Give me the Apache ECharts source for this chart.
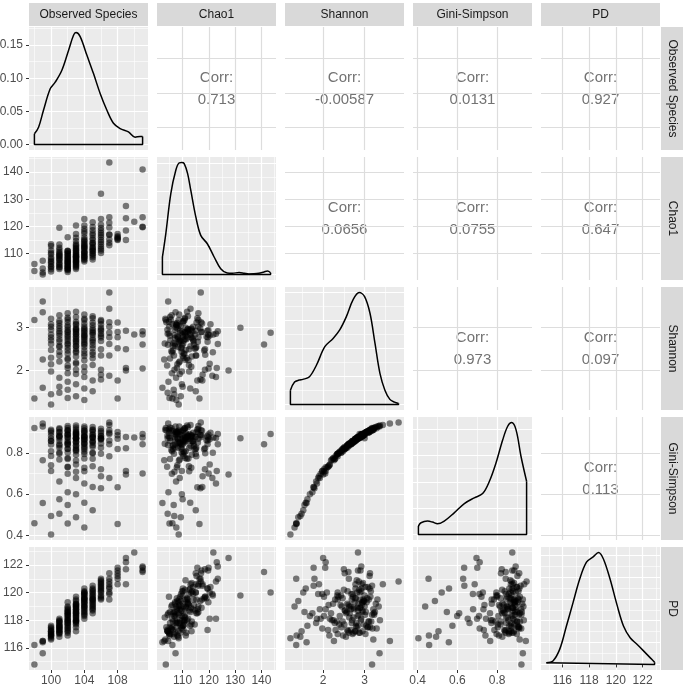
<!DOCTYPE html>
<html><head><meta charset="utf-8">
<script src="https://cdn.jsdelivr.net/npm/echarts@6/dist/echarts.min.js"></script>
<style>html,body{margin:0;padding:0;background:#fff}#c{width:687px;height:697px}</style>
</head><body><div id="c"></div>
<script>
const varNames = ['Observed Species', 'Chao1', 'Shannon', 'Gini-Simpson', 'PD'];

const observedSpecies = [
  98, 98,
  99, 99, 99, 99,
  100, 100, 100, 100, 100, 100, 100, 100, 100, 100, 100, 100, 100, 100,
  101, 101, 101, 101, 101, 101, 101, 101, 101, 101, 101, 101, 101, 101, 101, 101, 101, 101,
  102, 102, 102, 102, 102, 102, 102, 102, 102, 102, 102, 102, 102, 102, 102, 102, 102, 102, 102, 102, 102, 102, 102, 102, 102, 102,
  103, 103, 103, 103, 103, 103, 103, 103, 103, 103, 103, 103, 103, 103, 103, 103, 103, 103, 103, 103, 103, 103, 103, 103, 103, 103, 103, 103, 103, 103,
  104, 104, 104, 104, 104, 104, 104, 104, 104, 104, 104, 104, 104, 104, 104, 104, 104, 104, 104, 104, 104, 104, 104, 104, 104, 104, 104,
  105, 105, 105, 105, 105, 105, 105, 105, 105, 105, 105, 105, 105, 105, 105, 105, 105, 105, 105, 105,
  106, 106, 106, 106, 106, 106, 106, 106, 106, 106, 106, 106, 106, 106, 106,
  107, 107, 107, 107, 107, 107, 107, 107, 107,
  108, 108, 108, 108, 108, 108,
  109, 109, 109, 109,
  110,
  111, 111, 111, 111
];

const chao1 = [
  103.6, 106.1,
  107.3, 104.5, 103.0, 102.3,
  104.2, 108.5, 106.1, 111.2, 105.3, 109.7, 103.4, 107.2, 112.8, 106.8, 110.3, 104.9, 113.4, 108.0,
  105.1, 108.3, 110.6, 104.3, 112.1, 106.7, 109.2, 119.5, 107.5, 111.4, 105.8, 108.9, 113.3, 106.2, 110.0, 104.8, 107.9, 109.6,
  103.2, 105.5, 107.8, 109.1, 104.6, 106.3, 108.4, 110.2, 111.0, 105.0, 107.0, 108.8, 116.0, 104.1, 106.9, 109.6, 103.8, 105.9, 108.1, 110.7, 107.4, 104.4, 106.6, 109.9, 105.2, 110.9,
  104.3, 106.0, 107.6, 108.9, 110.4, 112.0, 113.5, 105.2, 107.0, 108.3, 109.7, 111.2, 114.6, 117.2, 120.3, 104.8, 106.5, 108.0, 109.3, 110.9, 112.6, 105.7, 107.3, 108.6, 110.0, 111.7, 115.8, 106.9, 109.0, 113.0,
  107.1, 108.5, 110.0, 111.4, 112.9, 114.3, 116.0, 118.2, 120.3, 122.7, 108.0, 109.4, 110.8, 112.2, 113.7, 115.2, 117.4, 107.6, 109.0, 110.4, 111.9, 113.3, 114.8, 108.7, 110.2, 112.5, 119.1,
  107.8, 109.3, 110.9, 112.4, 114.0, 115.6, 117.5, 119.8, 121.5, 108.6, 110.1, 111.6, 113.2, 115.0, 116.7, 109.8, 112.0, 113.8, 118.6, 111.0,
  110.2, 111.8, 113.4, 115.0, 116.8, 118.5, 120.6, 122.7, 132.0, 112.5, 114.2, 117.6, 119.4, 111.1, 116.0,
  113.0, 115.2, 143.5, 117.0, 119.6, 121.3, 123.4, 116.9, 114.0,
  115.3, 116.0, 115.6, 116.4, 117.2, 115.0,
  115.0, 118.5, 123.0, 127.5,
  121.7,
  141.0, 123.4, 119.7, 119.9
];

const shannon = [
  3.18, 1.35,
  3.36, 3.61, 2.26, 1.60,
  2.95, 1.21, 3.08, 2.48, 2.71, 1.98, 3.21, 2.62, 2.84, 1.45, 2.30, 3.02, 2.77, 2.15,
  2.81, 2.55, 3.16, 1.48, 2.92, 2.35, 3.04, 2.67, 1.83, 2.73, 3.29, 2.21, 2.98, 2.58, 1.62, 2.87, 3.11, 2.44,
  2.63, 3.19, 2.06, 2.88, 1.74, 2.47, 3.05, 2.79, 2.25, 1.36, 2.95, 2.69, 3.34, 2.12, 2.83, 2.53, 3.13, 1.94, 2.74, 2.39, 3.01, 2.60, 1.55, 2.91, 2.28, 3.23,
  2.86, 2.42, 3.07, 1.92, 2.70, 2.97, 2.33, 3.25, 2.58, 2.78, 1.68, 3.00, 2.51, 2.90, 2.16, 3.14, 2.64, 2.80, 1.40, 2.73, 2.95, 2.45, 3.09, 2.19, 2.85, 3.37, 2.67, 2.02, 2.93, 2.57,
  2.76, 3.18, 2.34, 2.89, 1.58, 2.61, 3.03, 2.47, 2.82, 1.85, 2.98, 2.68, 3.21, 2.24, 2.92, 2.55, 3.10, 1.31, 2.72, 2.40, 2.96, 2.09, 2.84, 3.31, 2.63, 1.98, 2.79,
  3.06, 2.52, 2.87, 2.13, 2.71, 3.22, 1.77, 2.94, 2.43, 2.66, 3.12, 2.29, 2.83, 1.52, 2.99, 2.59, 3.27, 2.75, 2.37, 2.90,
  3.15, 2.77, 2.96, 2.35, 1.79, 2.02, 3.08, 2.86, 3.00, 2.50, 2.69, 1.90, 2.93, 2.81, 3.18,
  3.44, 2.35, 2.88, 3.13, 2.78, 1.88, 2.62, 3.82, 3.02,
  3.12, 2.78, 1.77, 1.35, 2.90, 2.52,
  2.93, 2.50, 2.06, 2.00,
  2.84,
  2.61, 2.92, 2.84, 2.05
];

const giniSimpson = [
  0.922, 0.458,
  0.929, 0.944, 0.765, 0.557,
  0.884, 0.404, 0.907, 0.809, 0.858, 0.712, 0.913, 0.842, 0.869, 0.493, 0.786, 0.899, 0.858, 0.741,
  0.873, 0.826, 0.915, 0.505, 0.880, 0.797, 0.902, 0.843, 0.661, 0.860, 0.921, 0.768, 0.887, 0.836, 0.575, 0.882, 0.901, 0.803,
  0.845, 0.911, 0.731, 0.874, 0.609, 0.819, 0.903, 0.861, 0.776, 0.457, 0.892, 0.846, 0.932, 0.733, 0.877, 0.821, 0.911, 0.699, 0.852, 0.803, 0.890, 0.839, 0.547, 0.887, 0.771, 0.922,
  0.872, 0.809, 0.905, 0.679, 0.857, 0.886, 0.791, 0.924, 0.826, 0.869, 0.599, 0.897, 0.817, 0.878, 0.744, 0.914, 0.838, 0.872, 0.487, 0.853, 0.892, 0.815, 0.900, 0.764, 0.871, 0.934, 0.851, 0.709, 0.890, 0.835,
  0.866, 0.909, 0.795, 0.877, 0.558, 0.833, 0.901, 0.818, 0.867, 0.652, 0.895, 0.844, 0.921, 0.773, 0.880, 0.826, 0.908, 0.438, 0.851, 0.806, 0.884, 0.728, 0.879, 0.929, 0.846, 0.711, 0.862,
  0.904, 0.829, 0.873, 0.736, 0.859, 0.914, 0.635, 0.890, 0.801, 0.850, 0.911, 0.772, 0.877, 0.521, 0.888, 0.838, 0.926, 0.856, 0.799, 0.878,
  0.907, 0.868, 0.885, 0.796, 0.629, 0.721, 0.898, 0.873, 0.872, 0.825, 0.846, 0.687, 0.881, 0.866, 0.918,
  0.936, 0.784, 0.893, 0.911, 0.861, 0.678, 0.843, 0.948, 0.899,
  0.902, 0.869, 0.634, 0.455, 0.886, 0.819,
  0.878, 0.823, 0.712, 0.696,
  0.876,
  0.843, 0.893, 0.876, 0.700
];

const pd = [
  114.8, 116.2,
  115.6, 116.5, 116.5, 116.4,
  117.2, 116.7, 117.5, 116.9, 117.0, 117.4, 116.6, 117.1, 117.6, 116.8, 117.3, 117.0, 117.2, 116.9,
  117.5, 116.8, 117.9, 117.2, 118.1, 117.0, 117.6, 117.3, 117.8, 117.1, 117.4, 118.0, 117.7, 117.3, 117.6, 117.1, 117.9, 117.5,
  118.2, 117.4, 118.8, 117.1, 118.5, 117.9, 119.3, 117.6, 118.0, 116.9, 118.6, 117.8, 119.0, 117.3, 118.3, 118.7, 117.5, 118.1, 118.9, 117.7, 118.4, 117.2, 118.6, 118.0, 117.8, 118.4,
  118.4, 119.1, 117.5, 118.8, 118.0, 119.5, 117.9, 118.6, 119.2, 117.2, 118.3, 119.0, 117.7, 118.9, 118.1, 119.7, 118.5, 117.8, 119.4, 118.2, 118.7, 119.0, 117.9, 118.5, 119.2, 118.0, 118.8, 118.3, 119.1, 118.6,
  119.3, 118.4, 119.8, 118.9, 120.3, 119.1, 118.6, 119.6, 120.0, 118.1, 119.4, 119.9, 118.8, 119.2, 120.1, 118.5, 119.5, 119.0, 119.7, 118.3, 119.3, 120.0, 118.7, 119.5, 119.0, 119.9, 119.6,
  119.6, 118.7, 120.2, 119.1, 119.9, 118.5, 120.5, 119.3, 119.8, 119.0, 120.3, 119.5, 118.9, 120.0, 119.4, 120.1, 119.2, 118.8, 119.7, 119.5,
  120.1, 119.6, 120.7, 120.0, 121.0, 119.7, 120.4, 120.8, 119.8, 120.2, 119.5, 120.6, 120.3, 120.9, 120.5,
  120.6, 119.5, 120.0, 121.4, 120.3, 119.9, 121.0, 120.8, 120.4,
  121.2, 120.6, 121.8, 121.0, 121.6, 121.4,
  120.6, 121.7, 122.2, 122.5,
  122.9,
  121.5, 121.9, 121.6, 121.8
];

// density curves
const obsDensX = [98.0, 98.5, 99.1, 99.9, 100.5, 101.3, 102.1, 102.7, 103.0, 103.5, 104.3, 105.1, 105.9, 106.7, 107.5, 108.3, 109.3, 110.1, 110.7, 111.0];
const obsDensY = [0.016, 0.026, 0.052, 0.084, 0.094, 0.112, 0.142, 0.165, 0.169, 0.163, 0.135, 0.107, 0.077, 0.052, 0.032, 0.024, 0.019, 0.011, 0.012, 0.012];
const chaoDensX = [102.3, 103.6, 105.5, 107.4, 108.7, 109.7, 110.6, 111.9, 113.1, 115.0, 116.9, 119.4, 122.0, 124.5, 127.0, 129.0, 131.5, 133.5, 135.2, 137.0, 139.0, 141.0, 142.3, 143.5];
const chaoDensY = [0.0124, 0.0293, 0.058, 0.0747, 0.080, 0.0802, 0.0795, 0.0723, 0.0604, 0.0414, 0.028, 0.022, 0.0125, 0.0041, 0.001, 0.0008, 0.0014, 0.0008, 0.0003, 0.0004, 0.0008, 0.0018, 0.0024, 0.0012];
const shanDensX = [1.21, 1.31, 1.42, 1.51, 1.67, 1.84, 2.04, 2.24, 2.40, 2.56, 2.72, 2.87, 3.00, 3.13, 3.25, 3.37, 3.49, 3.61, 3.72, 3.82];
const shanDensY = [0.102, 0.160, 0.174, 0.179, 0.198, 0.282, 0.413, 0.472, 0.533, 0.628, 0.748, 0.800, 0.771, 0.652, 0.438, 0.222, 0.102, 0.036, 0.016, 0.007];
const giniDensX = [0.404, 0.417, 0.450, 0.475, 0.500, 0.534, 0.584, 0.635, 0.685, 0.727, 0.761, 0.794, 0.828, 0.853, 0.873, 0.895, 0.920, 0.948];
const giniDensY = [0.315, 0.442, 0.506, 0.468, 0.404, 0.506, 0.820, 1.173, 1.390, 1.551, 2.019, 2.712, 3.596, 4.110, 4.250, 3.974, 2.962, 2.019];
const pdDensX = [114.8, 115.29, 115.8, 116.3, 116.8, 117.3, 117.8, 118.3, 118.7, 119.06, 119.56, 120.07, 120.57, 121.07, 121.58, 122.07, 122.58, 122.9];
const pdDensY = [0.004, 0.008, 0.035, 0.088, 0.142, 0.196, 0.234, 0.246, 0.256, 0.242, 0.196, 0.138, 0.088, 0.061, 0.046, 0.031, 0.015, 0.005];

// tick values
const majorTicks = [[100, 104, 108], [110, 120, 130, 140], [2, 3], [0.4, 0.6, 0.8], [116, 118, 120, 122]];
const minorTicks = [[98, 102, 106, 110], [105, 115, 125, 135, 145], [1.5, 2.5, 3.5], [0.5, 0.7, 0.9], [115, 117, 119, 121, 123]];
const densMajor = [[0, 0.05, 0.1, 0.15], [0, 0.02, 0.04, 0.06, 0.08], [0, 0.2, 0.4, 0.6, 0.8], [0, 1, 2, 3, 4], [0, 0.05, 0.1, 0.15, 0.2, 0.25]];
const densMinor = [[0.025, 0.075, 0.125, 0.175], [0.01, 0.03, 0.05, 0.07], [0.1, 0.3, 0.5, 0.7], [0.5, 1.5, 2.5, 3.5], [0.025, 0.075, 0.125, 0.175, 0.225]];

// correlation labels (upper triangle, row i < col j)
const corrLabels = [
  [null, '0.713', '-0.00587', '0.0131', '0.927'],
  [null, null, '0.0656', '0.0755', '0.647'],
  [null, null, null, '0.973', '0.097'],
  [null, null, null, null, '0.113']
];

// ---- layout ----
const FONT = '"Liberation Sans", Arial, sans-serif';
const colLeft = [29, 157, 285, 413, 541];
const rowTop = [27, 157, 287, 417, 547];
const W = 119, H = 123;

const vars = [observedSpecies, chao1, shannon, giniSimpson, pd];
const densX = [obsDensX, chaoDensX, shanDensX, giniDensX, pdDensX];
const densY = [obsDensY, chaoDensY, shanDensY, giniDensY, pdDensY];
const fmt = [v => String(v), v => String(v), v => String(v), v => v.toFixed(1), v => String(v)];
const ranges = vars.map(a => {
  const mn = Math.min(...a), mx = Math.max(...a), r = mx - mn;
  return [mn - 0.05 * r, mx + 0.05 * r];
});

function majorAxis(k, r, ticks, upper, showLab, f, dim) {
  return {
    type: 'value', gridIndex: k, min: r[0], max: r[1], position: dim === 'x' ? 'bottom' : 'left',
    axisLine: { show: false },
    axisTick: { show: showLab, length: 3, lineStyle: { color: '#333333', width: 1 }, customValues: ticks },
    axisLabel: { show: showLab, customValues: ticks, formatter: f, color: '#4d4d4d', fontSize: 12, fontFamily: FONT, margin: dim === 'x' ? 5 : 6 },
    splitLine: { show: true, lineStyle: { color: upper ? '#dddddd' : '#ffffff', width: 1.2 } }
  };
}
function minorAxis(k, r, ticks, upper, dim) {
  return {
    type: 'value', gridIndex: k, min: r[0], max: r[1], position: dim === 'x' ? 'top' : 'right',
    axisLine: { show: false },
    axisTick: { show: false, customValues: ticks },
    axisLabel: { show: false, customValues: ticks },
    splitLine: { show: !upper, lineStyle: { color: '#ffffff', width: 0.6 } }
  };
}

const grids = [], xAxes = [], yAxes = [], series = [], graphics = [];
for (let i = 0; i < 5; i++) {
  for (let j = 0; j < 5; j++) {
    const k = i * 5 + j;
    const upper = i < j, diag = i === j;
    grids.push({ left: colLeft[j], top: rowTop[i], width: W, height: H, show: true,
      backgroundColor: upper ? '#ffffff' : '#ebebeb', borderWidth: 0, containLabel: false, outerBoundsMode: 'none' });
    xAxes.push(majorAxis(k, ranges[j], majorTicks[j], upper, i === 4, fmt[j], 'x'));
    xAxes.push(minorAxis(k, ranges[j], minorTicks[j], upper, 'x'));
    let yr, yMaj, yMin, yf;
    if (diag) {
      const dm = Math.max(...densY[j]);
      yr = [-0.05 * dm, 1.05 * dm]; yMaj = densMajor[j]; yMin = densMinor[j]; yf = v => v.toFixed(2);
    } else {
      yr = ranges[i]; yMaj = majorTicks[i]; yMin = minorTicks[i]; yf = fmt[i];
    }
    yAxes.push(majorAxis(k, yr, yMaj, upper, j === 0, yf, 'y'));
    yAxes.push(minorAxis(k, yr, yMin, upper, 'y'));

    if (diag) {
      const xs = densX[j], ys = densY[j];
      const curve = xs.map((x, n) => [x, ys[n]]);
      const last = xs.length - 1;
      // smooth density curve
      series.push({ type: 'line', xAxisIndex: 2 * k, yAxisIndex: 2 * k, data: curve, showSymbol: false, symbol: 'none',
        smooth: 0.35, lineStyle: { color: '#000000', width: 1.5 }, silent: true, z: 3 });
      // closing outline: vertical ends + baseline
      series.push({ type: 'line', xAxisIndex: 2 * k, yAxisIndex: 2 * k,
        data: [[xs[0], ys[0]], [xs[0], 0], [xs[last], 0], [xs[last], ys[last]]], showSymbol: false, symbol: 'none',
        smooth: false, lineStyle: { color: '#000000', width: 1.5 }, silent: true, z: 3 });
    } else if (!upper) {
      const data = vars[j].map((v, n) => [v, vars[i][n]]);
      series.push({ type: 'scatter', xAxisIndex: 2 * k, yAxisIndex: 2 * k, data: data, symbolSize: 6.5,
        itemStyle: { color: 'rgba(0,0,0,0.64)' }, silent: true, z: 3 });
    } else {
      graphics.push({ type: 'text', x: colLeft[j] + W / 2, y: rowTop[i] + H / 2, silent: true,
        style: { text: 'Corr:\n' + corrLabels[i][j], fill: '#737373', font: '15px ' + FONT, fontSize: 15, fontFamily: FONT,
          lineHeight: 22, align: 'center', verticalAlign: 'middle', textAlign: 'center', textVerticalAlign: 'middle' } });
    }
  }
}

// strips
for (let j = 0; j < 5; j++) {
  graphics.push({ type: 'rect', shape: { x: colLeft[j], y: 3, width: W, height: 23 }, style: { fill: '#d9d9d9' }, silent: true });
  graphics.push({ type: 'text', x: colLeft[j] + W / 2, y: 14.5, silent: true,
    style: { text: varNames[j], fill: '#1a1a1a', font: '12px ' + FONT, fontSize: 12, fontFamily: FONT,
      align: 'center', verticalAlign: 'middle', textAlign: 'center', textVerticalAlign: 'middle' } });
}
for (let i = 0; i < 5; i++) {
  graphics.push({ type: 'rect', shape: { x: 661, y: rowTop[i], width: 22, height: H }, style: { fill: '#d9d9d9' }, silent: true });
  graphics.push({ type: 'text', x: 672, y: rowTop[i] + H / 2, rotation: -Math.PI / 2, silent: true,
    style: { text: varNames[i], fill: '#1a1a1a', font: '12px ' + FONT, fontSize: 12, fontFamily: FONT,
      align: 'center', verticalAlign: 'middle', textAlign: 'center', textVerticalAlign: 'middle' } });
}

const chart = echarts.init(document.getElementById('c'), null, { renderer: 'canvas' });
chart.setOption({
  animation: false,
  backgroundColor: '#ffffff',
  textStyle: { fontFamily: FONT },
  grid: grids,
  xAxis: xAxes,
  yAxis: yAxes,
  series: series,
  graphic: { elements: graphics }
});
</script>
</body></html>
